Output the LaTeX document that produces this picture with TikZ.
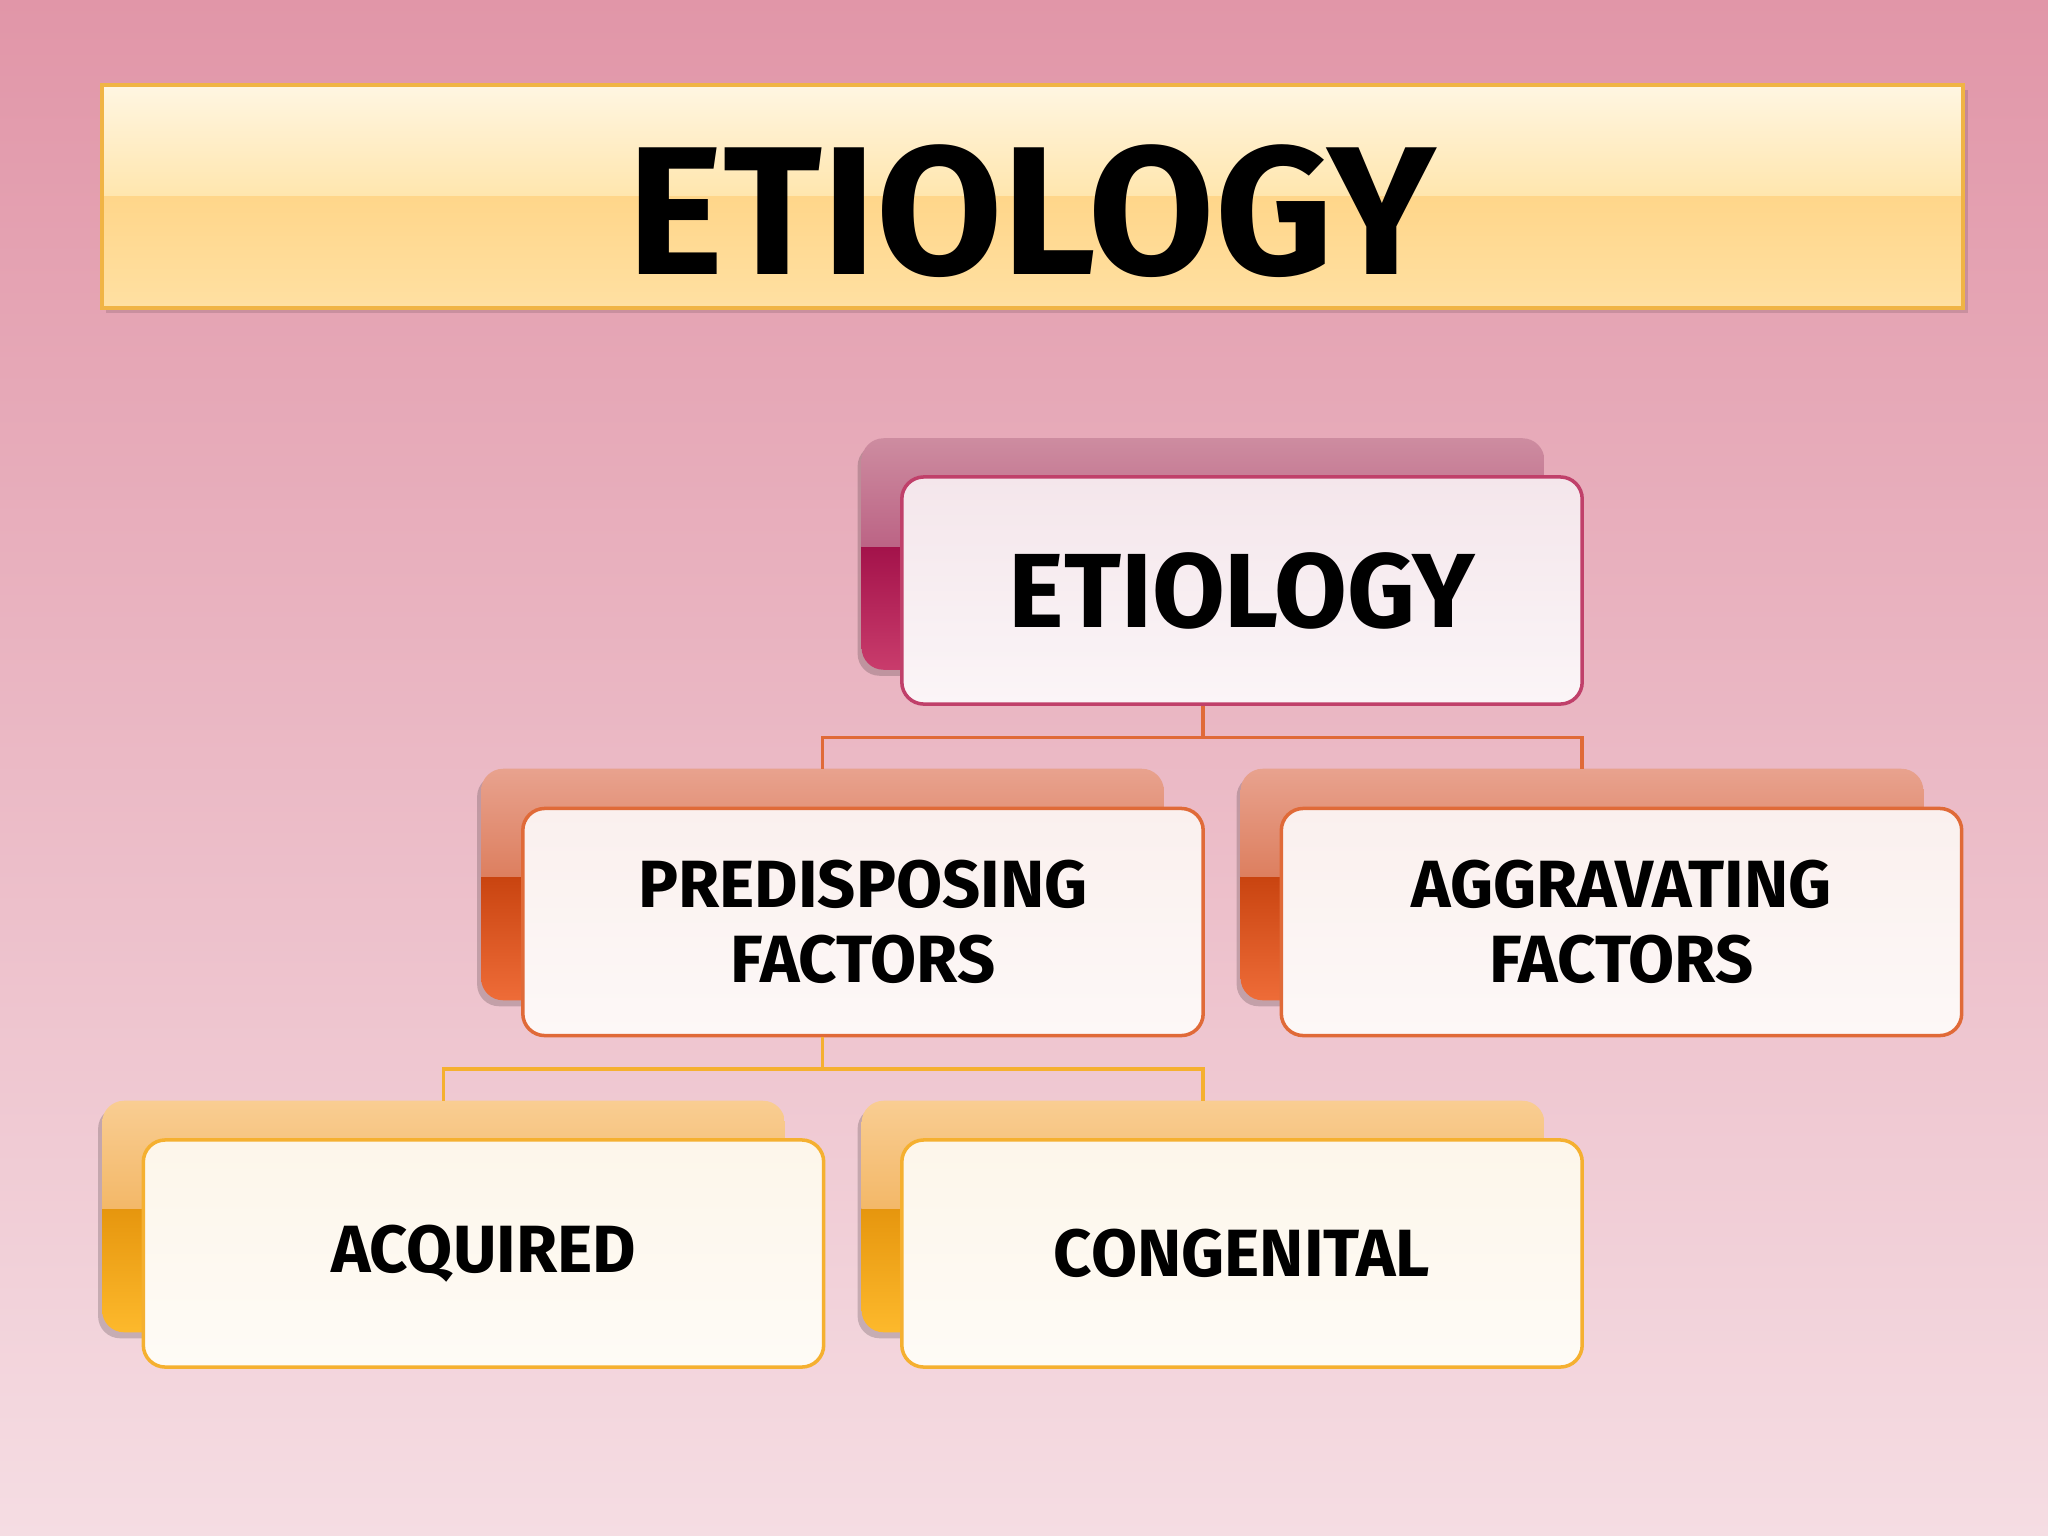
\documentclass[tikz,border=0pt]{standalone}
\usepackage{fontspec}
\setmainfont{Fira Sans}
\usetikzlibrary{calc}
\definecolor{bgtop}{HTML}{E196A8}
\definecolor{bgbot}{HTML}{F5DDE3}
\definecolor{titleA}{HTML}{FFF6E2}
\definecolor{titleB}{HTML}{FFE6AE}
\definecolor{titleC}{HTML}{FFD68A}
\definecolor{titleD}{HTML}{FFE0A2}
\definecolor{titleline}{HTML}{F0B445}
% crimson set
\definecolor{crA}{HTML}{CD8CA0}
\definecolor{crB}{HTML}{BC6485}
\definecolor{crC}{HTML}{A3124A}
\definecolor{crD}{HTML}{C93C6C}
\definecolor{crLine}{HTML}{C0406A}
\definecolor{crFillA}{HTML}{F4E6EB}
\definecolor{crFillB}{HTML}{FBF5F7}
% orange set
\definecolor{orA}{HTML}{E8A28E}
\definecolor{orB}{HTML}{DD7F5F}
\definecolor{orC}{HTML}{C94410}
\definecolor{orD}{HTML}{EE6C38}
\definecolor{orLine}{HTML}{E06A38}
\definecolor{orFillA}{HTML}{FAF0EE}
\definecolor{orFillB}{HTML}{FDF8F7}
% yellow set
\definecolor{ylA}{HTML}{F9CD92}
\definecolor{ylB}{HTML}{F3B868}
\definecolor{ylC}{HTML}{E6960E}
\definecolor{ylD}{HTML}{FDB92C}
\definecolor{ylLine}{HTML}{F5B030}
\definecolor{ylFillA}{HTML}{FDF6EA}
\definecolor{ylFillB}{HTML}{FEFBF6}
\tikzset{
  tabbox/.style={rectangle, minimum width=6.81cm, minimum height=2.3cm, inner sep=0pt},
  frontbox/.style={rectangle, rounded corners=0.22cm, minimum width=6.8cm, minimum height=2.27cm,
     inner sep=0pt, align=center, font=\bfseries\fontsize{19}{21.5}\selectfont, line width=1pt},
  bigtext/.style={font=\bfseries\fontsize{30}{34}\selectfont},
  conn/.style={line width=0.9pt},
}
\newcommand{\backtab}[6]{% name, center, A, B, C, D
  \node[tabbox] (#1) at (#2) {};
  \fill[black, opacity=0.18, rounded corners=0.22cm] ($(#1.south west)+(-4,6)$) rectangle ($(#1.north east)+(-4,6)$);
  \begin{scope}
    \clip[rounded corners=0.22cm] (#1.south west) rectangle (#1.north east);
    \shade[top color=#5, bottom color=#6] (#1.south west) rectangle ($(#1.east)+(0,-8)$);
    \shade[top color=#3, bottom color=#4] ($(#1.west)+(0,-8)$) rectangle (#1.north east);
  \end{scope}
}
\begin{document}
\begin{tikzpicture}[x=0.01cm, y=-0.01cm]
\useasboundingbox (0,0) rectangle (2048,1536);
\shade[top color=bgtop, bottom color=bgbot] (0,0) rectangle (2048,1536);

% title banner
\fill[black, opacity=0.12] (106,90) rectangle (1968,313);
\shade[top color=titleA, bottom color=titleB] (102,85) rectangle (1963,196);
\shade[top color=titleC, bottom color=titleD] (102,196) rectangle (1963,308);
\draw[titleline, line width=1.2pt] (102,85) rectangle (1963,308);
\node[font=\bfseries\fontsize{52}{60}\selectfont, inner sep=0pt] (title) at (1032,211) {ETIOLOGY};

% back tabs
\backtab{etiologyback}{1203,554}{crA}{crB}{crC}{crD}
\backtab{predback}{822.5,884.5}{orA}{orB}{orC}{orD}
\backtab{aggback}{1582,884.5}{orA}{orB}{orC}{orD}
\backtab{acqback}{443.5,1216.5}{ylA}{ylB}{ylC}{ylD}
\backtab{congback}{1203,1216.5}{ylA}{ylB}{ylC}{ylD}

% front boxes
\node[frontbox, draw=crLine, top color=crFillA, bottom color=crFillB, bigtext] (etiology) at (1242,590.5) {ETIOLOGY};
\node[frontbox, draw=orLine, top color=orFillA, bottom color=orFillB] (pred) at (863,922) {PREDISPOSING\\FACTORS};
\node[frontbox, draw=orLine, top color=orFillA, bottom color=orFillB] (agg) at (1621.5,922) {AGGRAVATING\\FACTORS};
\node[frontbox, draw=ylLine, top color=ylFillA, bottom color=ylFillB] (acq) at (483.5,1253.5) {ACQUIRED};
\node[frontbox, draw=ylLine, top color=ylFillA, bottom color=ylFillB] (cong) at (1242,1253.5) {CONGENITAL};

% connectors
\coordinate (j1) at ($(etiologyback.center |- etiology.south)!0.5!(etiologyback.center |- predback.north)$);
\draw[conn, orLine] (etiologyback.center |- etiology.south) -- (j1);
\draw[conn, orLine] (predback.north) |- (j1) -| (aggback.north);
\coordinate (j2) at ($(predback.center |- pred.south)!0.5!(predback.center |- acqback.north)$);
\draw[conn, ylLine] (predback.center |- pred.south) -- (j2);
\draw[conn, ylLine] (acqback.north) |- (j2) -| (congback.north);
\end{tikzpicture}
\end{document}
